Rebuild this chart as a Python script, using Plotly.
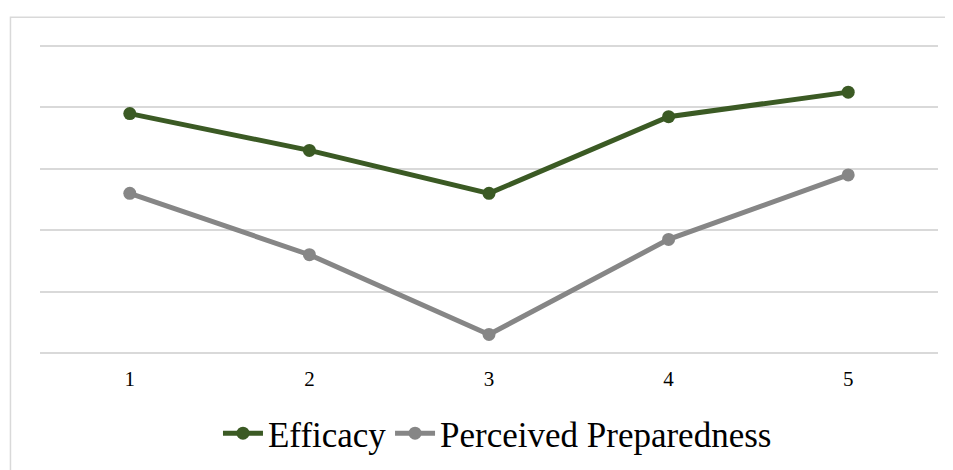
import plotly.graph_objects as go

categories = ["1", "2", "3", "4", "5"]
efficacy = [3.78, 3.66, 3.52, 3.77, 3.85]
preparedness = [3.52, 3.32, 3.06, 3.37, 3.58]
series_names = ["Efficacy", "Perceived Preparedness"]

fig = go.Figure()
fig.add_trace(go.Scatter(
    x=categories, y=efficacy, name=series_names[0], mode="lines+markers",
    line=dict(color="#3b5a24", width=5),
    marker=dict(size=13, color="#3b5a24"),
    legend="legend",
))
fig.add_trace(go.Scatter(
    x=categories, y=preparedness, name=series_names[1], mode="lines+markers",
    line=dict(color="#868686", width=5),
    marker=dict(size=13, color="#868686"),
    legend="legend2",
))

legend_style = dict(orientation="h", y=-0.2334, yanchor="middle", xanchor="left",
                    font=dict(size=35), itemwidth=40, bgcolor="rgba(0,0,0,0)")

fig.update_layout(
    width=945, height=462,
    margin=dict(l=32, r=15, t=31.87, b=111.4, autoexpand=False),
    plot_bgcolor="white", paper_bgcolor="white",
    font=dict(family="Liberation Serif, Times New Roman, serif", color="#000000"),
    xaxis=dict(type="category", range=[-0.5, 4.5], showgrid=False, zeroline=False,
               showline=False, ticks="", tickfont=dict(size=21), ticklabelstandoff=5,
               automargin=False),
    yaxis=dict(range=[2.98, 4.02], dtick=0.2, tick0=3.0, showticklabels=False, showgrid=True,
               gridcolor="#d9d9d9", gridwidth=1.5, zeroline=False, showline=False,
               automargin=False),
    legend=dict(x=0.1982, **legend_style),
    legend2=dict(x=0.3898, **legend_style),
    showlegend=True,
    shapes=[
        dict(type="rect", xref="paper", yref="paper", x0=-0.0329, x1=1.03, y0=-0.5, y1=1.0716,
             line=dict(color="#d9d9d9", width=1.5), fillcolor="rgba(0,0,0,0)", layer="below"),
    ],
)

fig.write_html("out.html")
